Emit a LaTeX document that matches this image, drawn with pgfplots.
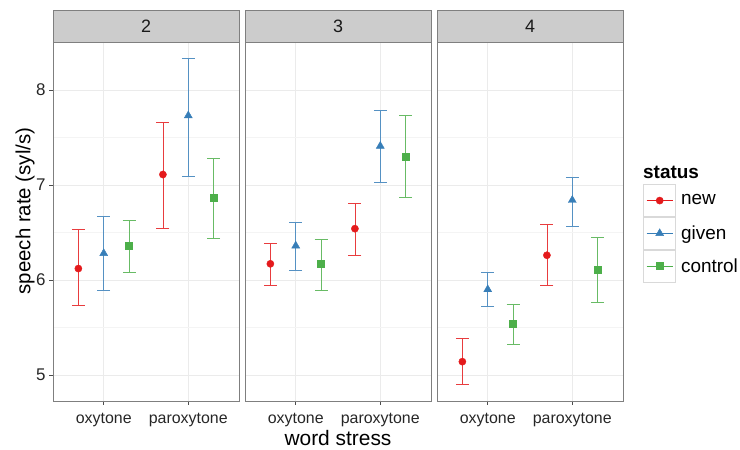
\documentclass[border=0pt]{standalone}
\usepackage{pgfplots}
\pgfplotsset{compat=1.18}
\usepackage{fontspec}
\setmainfont{Liberation Sans}
\definecolor{cnew}{HTML}{E41A1C}
\definecolor{cgiven}{HTML}{377EB8}
\definecolor{cctrl}{HTML}{4DAF4A}
\definecolor{gridc}{HTML}{EBEBEB}
\definecolor{minorgridc}{HTML}{F4F4F4}
\definecolor{borderc}{HTML}{7F7F7F}
\definecolor{stripc}{HTML}{CCCCCC}
\pgfplotsset{
  panel/.style={
    scale only axis, width=186bp, height=359bp,
    xmin=0.4, xmax=2.6, ymin=4.726, ymax=8.505,
    xtick={1,2}, xticklabels={oxytone,paroxytone},
    ytick={5,6,7,8}, minor ytick={5.5,6.5,7.5},
    grid=both,
    major grid style={draw=gridc, line width=0.8bp},
    minor grid style={draw=minorgridc, line width=0.8bp},
    axis line style={draw=borderc, line width=0.9bp},
    tick align=outside, xtick pos=bottom, ytick pos=left,
    major tick length=4bp, minor tick length=0pt,
    tick style={black!70, line width=0.8bp},
    ticklabel style={font=\fontsize{16}{18}\selectfont, text=black!85},
    yticklabel style={font=\fontsize{17}{19}\selectfont},
    /pgf/number format/assume math mode=true,
    xticklabel style={yshift=-5bp},
    clip=false,
  },
  errs/.style={error bars/.cd, y dir=both, y explicit,
    error bar style={line width=0.8bp, #1!85!white},
    error mark options={rotate=90, #1!85!white, line width=0.8bp, mark size=6.5bp}},
  snew/.style={color=cnew, only marks, mark=*, mark size=3.6bp, mark options={solid, fill=cnew}, errs=cnew},
  sgiven/.style={color=cgiven, only marks, mark=triangle*, mark size=4.6bp, mark options={solid, fill=cgiven}, errs=cgiven},
  sctrl/.style={color=cctrl, only marks, mark=square*, mark size=3.5bp, mark options={solid, fill=cctrl}, errs=cctrl},
}
\begin{document}
\begin{tikzpicture}[x=1bp,y=1bp]
\useasboundingbox (0,0) rectangle (740,450);
% panel "2"
\begin{axis}[panel, at={(53bp,49bp)}, anchor=south west]
\addplot[snew] coordinates {(0.7,6.12) += (0,0.41) -= (0,0.39) (1.7,7.11) += (0,0.55) -= (0,0.57)};
\addplot[sgiven] coordinates {(1,6.28) += (0,0.39) -= (0,0.39) (2,7.73) += (0,0.60) -= (0,0.64)};
\addplot[sctrl] coordinates {(1.3,6.36) += (0,0.27) -= (0,0.28) (2.3,6.87) += (0,0.41) -= (0,0.43)};
\end{axis}
% panel "3"
\begin{axis}[panel, at={(245bp,49bp)}, anchor=south west, yticklabels={}, ytick style={draw=none}]
\addplot[snew] coordinates {(0.7,6.17) += (0,0.21) -= (0,0.23) (1.7,6.54) += (0,0.27) -= (0,0.28)};
\addplot[sgiven] coordinates {(1,6.36) += (0,0.25) -= (0,0.26) (2,7.41) += (0,0.37) -= (0,0.38)};
\addplot[sctrl] coordinates {(1.3,6.17) += (0,0.26) -= (0,0.28) (2.3,7.30) += (0,0.43) -= (0,0.43)};
\end{axis}
% panel "4"
\begin{axis}[panel, at={(437bp,49bp)}, anchor=south west, yticklabels={}, ytick style={draw=none},
  legend image code/.code={
    \draw[draw=black!15, fill=white, line width=0.8bp] (0bp,-16bp) rectangle (32bp,16bp);
    \draw[#1, mark=none, line width=0.8bp] (3bp,0bp) -- (29bp,0bp);
    \draw[#1] plot coordinates {(16bp,0bp)};
  },
  legend style={at={(rel axis cs:1.108,0.6045)}, anchor=north west, draw=none, fill=none,
    inner sep=0pt, row sep=0pt, nodes={inner ysep=0pt, inner xsep=5bp, anchor=west},
    font=\fontsize{19}{21}\selectfont},
  legend cell align=left]
\addplot[snew] coordinates {(0.7,5.14) += (0,0.24) -= (0,0.24) (1.7,6.26) += (0,0.32) -= (0,0.32)};
\addlegendentry{new}
\addplot[sgiven] coordinates {(1,5.90) += (0,0.18) -= (0,0.18) (2,6.84) += (0,0.24) -= (0,0.28)};
\addlegendentry{given}
\addplot[sctrl] coordinates {(1.3,5.54) += (0,0.20) -= (0,0.22) (2.3,6.11) += (0,0.34) -= (0,0.35)};
\addlegendentry{control}
\end{axis}
% strips
\foreach \xl/\lab in {53/2, 245/3, 437/4}{
  \draw[fill=stripc, draw=borderc, line width=0.9bp] (\xl,408) rectangle (\xl+186,440);
  \node[font=\fontsize{18}{20}\selectfont, text=black!90] at (\xl+93,424) {\lab};
}
% axis titles
\node[rotate=90, font=\fontsize{20.5}{22}\selectfont] at (25,239) {speech rate (syl/s)};
\node[font=\fontsize{21}{23}\selectfont] at (338,12) {word stress};
\node[anchor=west, inner sep=0pt, font=\bfseries\fontsize{19}{21}\selectfont] at (643,278) {status};
\end{tikzpicture}
\end{document}
